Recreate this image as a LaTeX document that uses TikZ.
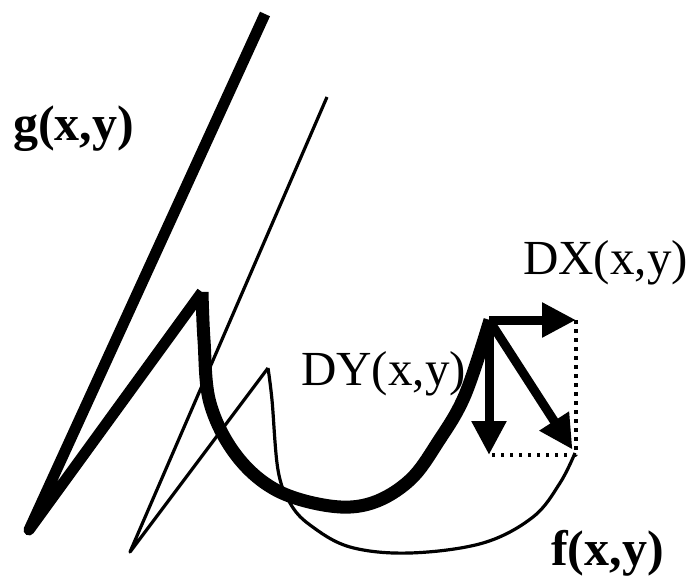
\documentclass[tikz,border=0pt]{standalone}
\usepackage{fontspec}
\setmainfont{Liberation Serif}
\usetikzlibrary{arrows.meta,calc}

\begin{document}
\begin{tikzpicture}[x=1pt, y=-1pt, line join=round,
    thickline/.style={line width=11pt},
    thinline/.style={line width=3.2pt},
    vec/.style={line width=9pt, -{Triangle[length=34pt, width=33pt]}},
    guide/.style={line width=3.5pt, dash pattern=on 3.5pt off 5.5pt},
    every node/.style={font=\fontsize{49}{52}\selectfont, inner sep=0pt}]
  \useasboundingbox (0,0) rectangle (689,578);
  % g(x,y): the thick curve
  \draw[thickline] (265,14) -- (29,530) -- (202,292);
  \draw[thickline, line width=13pt] plot[smooth, tension=0.6] coordinates {(202,292) (204,340) (210,403) (236,455) (276,490) (330,506) (372,503) (410,480) (438,442) (465,395) (490,320)};
  % f(x,y): the thin curve
  \draw[thinline] (327,97) -- (130,552) -- (268,368);
  \draw[thinline] plot[smooth, tension=0.6] coordinates {(268,368) (272,400) (278,470) (290,503) (310,525) (350,547) (410,553) (483,543) (533,517) (560,483) (575,453)};
  % derivative vectors
  \coordinate (o) at (489,320);
  \coordinate (dx) at (576,320);
  \coordinate (dy) at (489,455);
  \coordinate (d) at (576,455);
  \draw[guide] (dx) -- (d) -- (dy);
  \draw[vec] (o) -- (dx);
  \draw[vec] (o) -- (dy);
  \draw[vec] (o) -- ($(o)!0.96!(d)$);
  % labels
  \node[anchor=base west, font=\fontsize{50}{52}\selectfont\bfseries] (g) at (13,140) {g(x,y)};
  \node[anchor=base west] (dxlab) at (523,274) {DX(x,y)};
  \node[anchor=base west] (dylab) at (301,385) {DY(x,y)};
  \node[anchor=base west, font=\fontsize{50}{52}\selectfont\bfseries] (f) at (551,565) {f(x,y)};
\end{tikzpicture}
\end{document}
